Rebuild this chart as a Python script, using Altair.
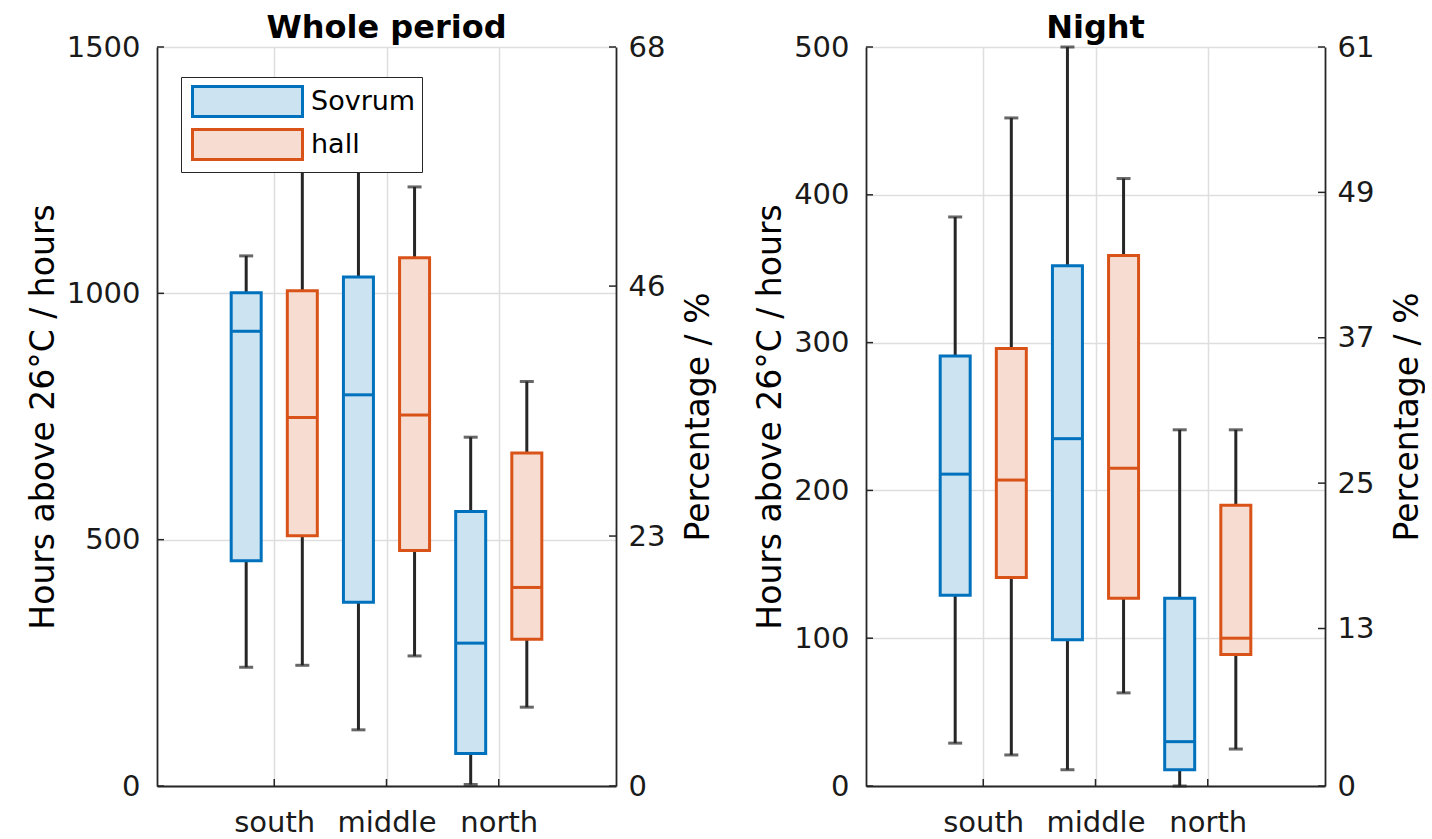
import json

import altair as alt
import pandas as pd

# ---- data -----------------------------------------------------------------
regions = ["south", "middle", "north"]
rooms = ["Sovrum", "hall"]

# order: Sovrum south, hall south, Sovrum middle, hall middle, Sovrum north, hall north
whole_lower = [241, 245, 114, 264, 3, 160]
whole_q1 = [457, 508, 373, 478, 66, 298]
whole_median = [923, 748, 794, 753, 290, 403]
whole_q3 = [1001, 1005, 1033, 1072, 557, 676]
whole_upper = [1076, 1380, 1330, 1216, 708, 821]

night_lower = [29, 21, 11, 63, 0, 25]
night_q1 = [129, 141, 99, 127, 11, 89]
night_median = [211, 207, 235, 215, 30, 100]
night_q3 = [291, 296, 352, 359, 127, 190]
night_upper = [385, 452, 500, 411, 241, 241]

whole_hour_ticks = [0, 500, 1000, 1500]
whole_pct_ticks = [0, 23, 46, 68]
night_hour_ticks = [0, 100, 200, 300, 400, 500]
night_pct_ticks = [0, 13, 25, 37, 49, 61]

# ---- style ----------------------------------------------------------------
FONT = "DejaVu Sans"
DARK = "#262626"
GRID = "#dedede"
W, H = 459, 739
LW = 3
stroke_colors = ["#0072BD", "#D95319"]
fill_colors = ["#CCE3F2", "#F7DDD1"]
LEGEND_SHAPE = "M-3.235,-0.882H3.235V0.882H-3.235Z"

x_label_expr = json.dumps(regions) + "[datum.value - 1]"
pos_expr = f"datum.ri + (datum.room == '{rooms[0]}' ? -0.25 : 0.25)"


def panel(title, lower, q1, median, q3, upper, hour_ticks, pct_ticks, show_legend):
    df = pd.DataFrame({
        "region": [regions[i // 2] for i in range(6)],
        "room": [rooms[i % 2] for i in range(6)],
        "ri": [i // 2 + 1 for i in range(6)],
        "lower": lower, "q1": q1, "median": median, "q3": q3, "upper": upper,
    })

    yscale = alt.Scale(domain=[0, hour_ticks[-1]], nice=False, zero=True)
    xscale = alt.Scale(domain=[0, 4], nice=False, zero=True)
    yaxis = alt.Axis(
        values=hour_ticks, format="d", title="Hours above 26°C / hours", grid=True,
        gridColor=GRID, gridWidth=1.5, ticks=False, domain=True, domainColor=DARK,
        domainWidth=1.8, labelFont=FONT, labelFontSize=29, labelColor="#1a1a1a",
        labelPadding=17, labelFlush=False, labelOverlap=False, titleFont=FONT,
        titleFontSize=33, titleFontWeight="normal", titleColor="black", titlePadding=6,
    )
    xaxis = alt.Axis(
        values=[1, 2, 3], labelExpr=x_label_expr, title=None, grid=True, gridColor=GRID,
        gridWidth=1.5, ticks=False, domain=True, domainColor=DARK, domainWidth=2,
        labelFont=FONT, labelFontSize=29, labelColor="#1a1a1a", labelPadding=22,
        labelFlush=False, labelOverlap=False,
    )
    X = alt.X("pos:Q", scale=xscale, axis=xaxis)

    def Y(field):
        return alt.Y(f"{field}:Q", scale=yscale, axis=yaxis)

    if show_legend:
        legend = alt.Legend(
            title=None, orient="none", legendX=24, legendY=30,
            symbolType=LEGEND_SHAPE, symbolSize=1156, symbolStrokeWidth=LW,
            symbolOffset=42, labelOffset=45, labelFont=FONT, labelFontSize=27,
            labelColor="black", padding=6, rowPadding=0,
            strokeColor=DARK, fillColor="white",
        )
    else:
        legend = None

    fill = alt.Fill("room:N", scale=alt.Scale(domain=rooms, range=fill_colors), legend=legend)
    stroke = alt.Stroke("room:N", scale=alt.Scale(domain=rooms, range=stroke_colors), legend=legend)

    base = alt.Chart(df).transform_calculate(pos=pos_expr)

    whisk_lo = base.mark_rule(color=DARK, strokeWidth=LW).encode(x=X, y=Y("lower"), y2="q1:Q")
    whisk_hi = base.mark_rule(color=DARK, strokeWidth=LW).encode(x=X, y=Y("q3"), y2="upper:Q")
    cap_lo = base.mark_tick(orient="horizontal", size=14, thickness=LW, color=DARK).encode(
        x=X, y=Y("lower"))
    cap_hi = base.mark_tick(orient="horizontal", size=14, thickness=LW, color=DARK).encode(
        x=X, y=Y("upper"))
    boxes = base.mark_bar(size=30, strokeWidth=LW, opacity=1).encode(
        x=X, y=Y("q1"), y2="q3:Q", fill=fill, stroke=stroke)
    medians = base.mark_tick(orient="horizontal", size=30, thickness=LW, opacity=1).encode(
        x=X, y=Y("median"),
        color=alt.Color("room:N", scale=alt.Scale(domain=rooms, range=stroke_colors), legend=None))

    # inward tick marks on the left and bottom axes
    left_ticks = alt.Chart(pd.DataFrame({"h": hour_ticks})).mark_rule(
        color=DARK, strokeWidth=1.5).encode(y=Y("h"), x=alt.value(0), x2=alt.value(7))
    bottom_ticks = alt.Chart(pd.DataFrame({"pos": [1, 2, 3]})).mark_rule(
        color=DARK, strokeWidth=1.5).encode(x=X, y=alt.value(H), y2=alt.value(H - 7))

    hours_layer = alt.layer(whisk_lo, whisk_hi, cap_lo, cap_hi, boxes, medians,
                            left_ticks, bottom_ticks)

    # secondary percentage axis on the right, with its own inward ticks
    pct_axis = alt.Axis(
        orient="right", values=pct_ticks, title="Percentage / %", grid=False, ticks=False,
        domain=True, domainColor=DARK, domainWidth=1.8, labelFont=FONT, labelFontSize=29,
        labelColor="#1a1a1a", labelPadding=12, labelFlush=False, labelOverlap=False,
        titleFont=FONT, titleFontSize=33, titleFontWeight="normal", titleColor="black",
        titleAngle=270, titleBaseline="top", titlePadding=18,
    )
    pct_layer = alt.Chart(pd.DataFrame({"p": pct_ticks})).mark_rule(
        color=DARK, strokeWidth=1.5).encode(
        y=alt.Y("p:Q", scale=alt.Scale(domain=[0, pct_ticks[-1]], nice=False), axis=pct_axis),
        x=alt.value(W - 7), x2=alt.value(W))

    return alt.layer(hours_layer, pct_layer).resolve_scale(y="independent").properties(
        width=W, height=H,
        title=alt.Title(title, font=FONT, fontSize=32, fontWeight="bold", color="black",
                        offset=-12, anchor="middle", frame="group"),
    )


whole = panel("Whole period", whole_lower, whole_q1, whole_median, whole_q3, whole_upper,
              whole_hour_ticks, whole_pct_ticks, True)
night = panel("Night", night_lower, night_q1, night_median, night_q3, night_upper,
              night_hour_ticks, night_pct_ticks, False)

chart = alt.hconcat(whole, night, spacing=38).resolve_legend(
    fill="independent", stroke="independent", color="independent"
).configure_view(stroke=None).properties(
    padding={"left": 27, "top": 12, "right": 0, "bottom": 0}
)

chart.save("out.html", embed_options={"renderer": "svg", "actions": False})
